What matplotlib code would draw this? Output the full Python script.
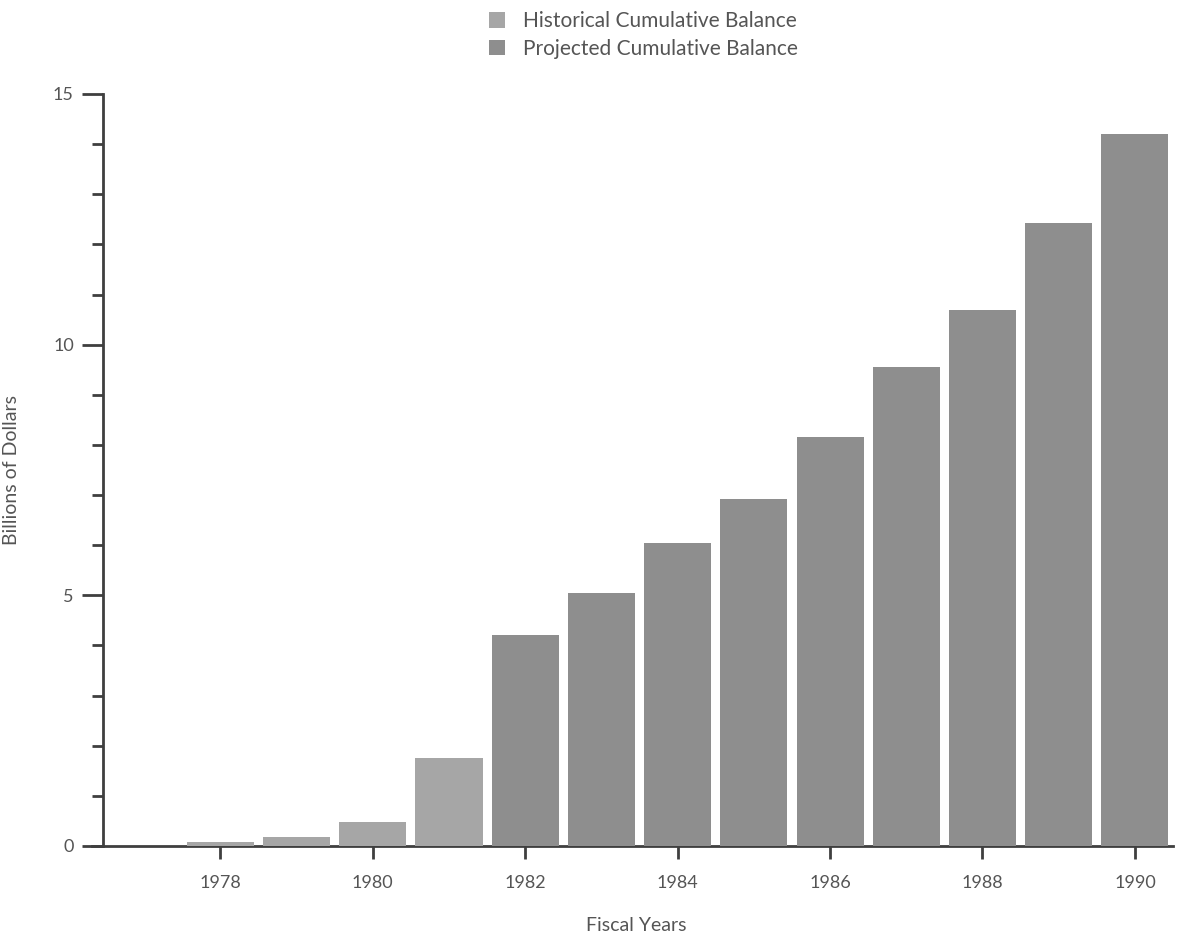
import matplotlib
matplotlib.use("Agg")
import matplotlib.pyplot as plt
from matplotlib.ticker import MultipleLocator
from matplotlib.patches import Patch

# Data
hist_years = [1978, 1979, 1980, 1981]
hist_values = [0.07, 0.18, 0.48, 1.76]
proj_years = [1982, 1983, 1984, 1985, 1986, 1987, 1988, 1989, 1990]
proj_values = [4.21, 5.05, 6.04, 6.92, 8.16, 9.55, 10.70, 12.43, 14.20]
x_ticks = [1978, 1980, 1982, 1984, 1986, 1988, 1990]
legend_labels = ["Historical Cumulative Balance", "Projected Cumulative Balance"]

hist_color = "#a6a6a6"
proj_color = "#8e8e8e"
axis_color = "#3f3f3f"
text_color = "#555555"

plt.rcParams['font.family'] = ['Lato', 'DejaVu Sans']

fig = plt.figure(figsize=(11.81, 9.32), dpi=100)
ax = fig.add_axes([92/1181, 1-846/932, (1173-92)/1181, (846-94)/932])

w = 0.88
ax.bar(hist_years, hist_values, width=w, color=hist_color, zorder=3)
ax.bar(proj_years, proj_values, width=w, color=proj_color, zorder=3)

ax.set_xlim(1976.316, 1990.5)
ax.set_ylim(0, 15)

for s in ["top", "right"]:
    ax.spines[s].set_visible(False)
ax.spines["left"].set_position(("data", 1976.46))
for s in ["left", "bottom"]:
    ax.spines[s].set_color(axis_color)
    ax.spines[s].set_linewidth(2)
ax.spines["bottom"].set_zorder(2)

ax.set_yticks([0, 5, 10, 15])
ax.yaxis.set_minor_locator(MultipleLocator(1))
ax.set_xticks(x_ticks)
ax.set_xticklabels([str(y) for y in x_ticks])
ax.tick_params(axis="y", which="major", length=15, width=2, color=axis_color,
               labelsize=13, labelcolor=text_color, pad=6)
ax.tick_params(axis="y", which="minor", length=8, width=2, color=axis_color)
ax.tick_params(axis="x", which="major", length=9, width=2, color=axis_color,
               labelsize=13, labelcolor=text_color, pad=12)

ax.set_xlabel("Fiscal Years", fontsize=14, color=text_color)
ax.xaxis.set_label_coords(0.5036, -0.094)
ax.set_ylabel("Billions of Dollars", fontsize=14, color=text_color)
ax.yaxis.set_label_coords(-0.0666, 0.5)

handles = [Patch(facecolor=hist_color, edgecolor="none"),
           Patch(facecolor=proj_color, edgecolor="none")]
fig.legend(handles, legend_labels, loc="upper center", bbox_to_anchor=(0.545, 1.008),
           frameon=False, fontsize=15, handlelength=0.75, handleheight=0.75,
           handletextpad=0.9, labelspacing=0.35, labelcolor=text_color)

fig.savefig("out.png", dpi=100, facecolor="white")
